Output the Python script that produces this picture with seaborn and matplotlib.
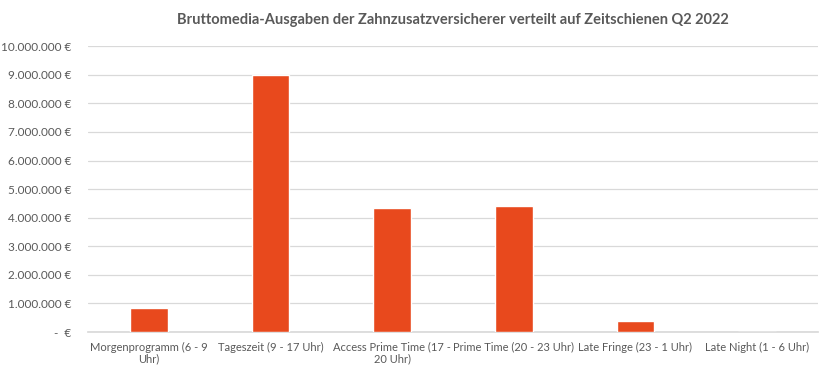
import pandas as pd
import matplotlib
matplotlib.use("Agg")
import matplotlib.pyplot as plt
import seaborn as sns
from matplotlib.ticker import FuncFormatter

# Zeitschienen und Bruttomedia-Ausgaben (in Euro)
categories = [
    "Morgenprogramm (6 - 9\nUhr)",
    "Tageszeit (9 - 17 Uhr)",
    "Access Prime Time (17 -\n20 Uhr)",
    "Prime Time (20 - 23 Uhr)",
    "Late Fringe (23 - 1 Uhr)",
    "Late Night (1 - 6 Uhr)",
]
spend = [850000, 9000000, 4350000, 4420000, 390000, 0]
y_ticks = [i * 1000000 for i in range(11)]

title = "Bruttomedia-Ausgaben der Zahnzusatzversicherer verteilt auf Zeitschienen Q2 2022"

df = pd.DataFrame({"Zeitschiene": categories, "Ausgaben": spend})

sns.set_theme(style="white")
plt.rcParams["font.family"] = ["Lato", "DejaVu Sans"]


def euro_fmt(v, pos):
    if v == 0:
        return "-  €"
    return f"{int(v):,} €".replace(",", ".")


fig, ax = plt.subplots(figsize=(8.32, 3.79), dpi=100)
fig.subplots_adjust(left=0.106, right=0.983, top=0.878, bottom=0.124)

sns.barplot(data=df, x="Zeitschiene", y="Ausgaben", color="#E8491D",
            width=0.31, saturation=1, ax=ax, zorder=3)

ax.set_ylim(0, 10000000)
ax.set_yticks(y_ticks)
ax.yaxis.set_major_formatter(FuncFormatter(euro_fmt))
ax.grid(axis="y", color="#D9D9D9", linewidth=0.9, zorder=0)
ax.set_axisbelow(True)
for s in ["top", "right", "left"]:
    ax.spines[s].set_visible(False)
ax.spines["bottom"].set_color("#D9D9D9")
ax.tick_params(axis="both", length=0, colors="#595959")
ax.tick_params(axis="y", pad=12, labelsize=8.5)
ax.tick_params(axis="x", pad=7, labelsize=8)
ax.set_xlabel("")
ax.set_ylabel("")
for lbl in ax.get_xticklabels():
    lbl.set_horizontalalignment("center")
    lbl.set_linespacing(1.1)
ax.set_title(title, fontsize=10.5, fontweight="bold", color="#595959", pad=16)

fig.savefig("out.png", dpi=100, facecolor="white")
